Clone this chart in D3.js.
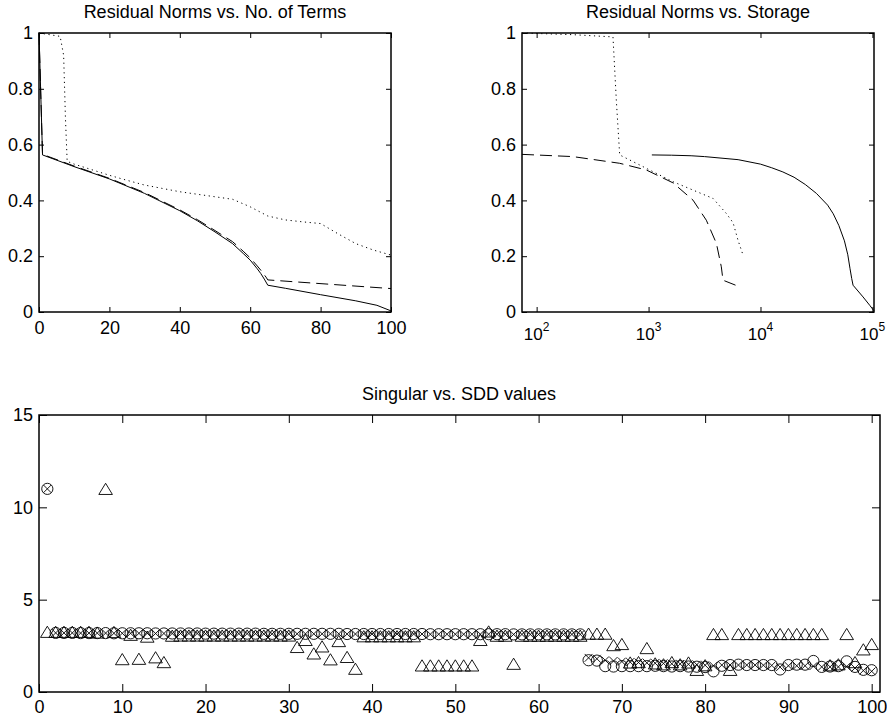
<!DOCTYPE html>
<html>
<head>
<meta charset="utf-8">
<script src="https://cdn.jsdelivr.net/npm/d3@7"></script>
<style>
  body { margin: 0; background: #fff; }
  svg { font-family: "Liberation Sans", Arial, Helvetica, sans-serif; }
  .tick text { font-size: 18px; fill: #000; }
  .tick line { stroke: #000; stroke-width: 1; }
  .title { font-size: 18px; text-anchor: middle; }
</style>
</head>
<body>
<div id="chart"></div>
<script>
'use strict';

// --- residual norm vs number of terms (top left)
const termsSolidX = [0, 1, 10, 20, 30, 40, 45, 50, 55, 58, 60, 62, 63, 64, 65, 70, 80, 90, 96, 100];
const termsSolidY = [1.0, 0.563, 0.521, 0.477, 0.425, 0.363, 0.327, 0.287, 0.245, 0.21, 0.186, 0.155, 0.138, 0.118, 0.096, 0.085, 0.062, 0.040, 0.024, 0.004];
const termsDashX = [0, 1, 10, 20, 30, 40, 45, 50, 55, 58, 60, 62, 63, 64.5, 65, 100];
const termsDashY = [1.0, 0.565, 0.523, 0.479, 0.428, 0.366, 0.331, 0.292, 0.252, 0.218, 0.194, 0.165, 0.15, 0.125, 0.115, 0.084];
const termsDotX = [0, 6, 7, 7.5, 8, 10, 15, 20, 25, 30, 35, 40, 45, 50, 55, 60, 65, 70, 75, 80, 85, 90, 95, 100];
const termsDotY = [1.0, 0.988, 0.92, 0.7, 0.54, 0.53, 0.51, 0.49, 0.472, 0.455, 0.443, 0.431, 0.422, 0.413, 0.404, 0.377, 0.344, 0.33, 0.323, 0.317, 0.28, 0.245, 0.222, 0.204];

// --- residual norm vs storage (top right)
const storSolidX = [1070, 1600, 2400, 3162, 6310, 10000, 12590, 15850, 19950, 25120, 31620, 39810, 44670, 50120, 56230, 60260, 63100, 65310, 67140, 82410, 94620, 103300];
const storSolidY = [0.563, 0.562, 0.560, 0.557, 0.546, 0.530, 0.517, 0.502, 0.483, 0.457, 0.425, 0.383, 0.352, 0.310, 0.255, 0.205, 0.155, 0.120, 0.096, 0.054, 0.024, 0.004];
const storDashX = [74, 211, 552, 955, 1652, 2495, 3281, 4036, 4467, 4624, 5998];
const storDashY = [0.565, 0.557, 0.533, 0.509, 0.463, 0.401, 0.329, 0.246, 0.162, 0.114, 0.096];
const storDotX = [74, 211, 481, 515, 552, 832, 1652, 2495, 3767, 4955, 5689, 6299, 6984];
const storDotY = [1.0, 0.994, 0.986, 0.76, 0.563, 0.527, 0.467, 0.437, 0.407, 0.353, 0.320, 0.257, 0.204];

// --- singular vs SDD values (bottom), index 1..100
const circleVals = [
  11.0, 3.20, 3.20, 3.20, 3.19, 3.19, 3.19, 3.19, 3.18, 3.18,
  3.18, 3.18, 3.18, 3.17, 3.17, 3.17, 3.17, 3.17, 3.17, 3.16,
  3.16, 3.16, 3.16, 3.16, 3.16, 3.16, 3.15, 3.15, 3.15, 3.15,
  3.15, 3.15, 3.15, 3.15, 3.15, 3.15, 3.14, 3.14, 3.14, 3.14,
  3.14, 3.14, 3.14, 3.14, 3.14, 3.14, 3.13, 3.13, 3.13, 3.13,
  3.13, 3.13, 3.13, 3.13, 3.13, 3.13, 3.12, 3.12, 3.12, 3.12,
  3.12, 3.12, 3.12, 3.12, 3.12, 1.72, 1.70, 1.40, 1.38, 1.40,
  1.40, 1.40, 1.40, 1.42, 1.40, 1.38, 1.40, 1.38, 1.37, 1.35,
  1.12, 1.42, 1.46, 1.48, 1.46, 1.46, 1.46, 1.46, 1.22, 1.46,
  1.48, 1.48, 1.68, 1.36, 1.38, 1.40, 1.66, 1.36, 1.20, 1.18
];
const crossVals = [
  11.0, 3.20, 3.20, 3.20, 3.19, 3.19, 3.19, 3.19, 3.18, 3.18,
  3.18, 3.18, 3.18, 3.17, 3.17, 3.17, 3.17, 3.17, 3.17, 3.16,
  3.16, 3.16, 3.16, 3.16, 3.16, 3.16, 3.15, 3.15, 3.15, 3.15,
  3.15, 3.15, 3.15, 3.15, 3.15, 3.15, 3.14, 3.14, 3.14, 3.14,
  3.14, 3.14, 3.14, 3.14, 3.14, 3.14, 3.13, 3.13, 3.13, 3.13,
  3.13, 3.13, 3.13, 3.13, 3.13, 3.13, 3.12, 3.12, 3.12, 3.12,
  3.12, 3.12, 3.12, 3.12, 3.12, 1.85, 1.80, 1.72, 1.68, 1.65,
  1.62, 1.60, 1.58, 1.56, 1.55, 1.53, 1.52, 1.50, 1.48, 1.45,
  1.42, 1.46, 1.46, 1.46, 1.46, 1.46, 1.45, 1.44, 1.35, 1.42,
  1.42, 1.42, 1.40, 1.36, 1.36, 1.36, 1.38, 1.30, 1.16, 1.12
];
const triangleVals = [
  3.26, 3.26, 3.26, 3.26, 3.26, 3.26, 3.22, 11.0, 3.25, 1.78,
  3.10, 1.80, 3.00, 1.88, 1.62, 3.05, 3.06, 3.06, 3.06, 3.06,
  3.06, 3.06, 3.06, 3.06, 3.06, 3.06, 3.06, 3.06, 3.06, 3.06,
  2.44, 2.82, 2.09, 2.47, 1.77, 2.76, 1.90, 1.26, 3.02, 3.02,
  3.02, 3.02, 3.02, 3.02, 3.02, 1.44, 1.44, 1.44, 1.44, 1.44,
  1.44, 1.44, 2.82, 3.28, 3.05, 3.05, 1.53, 3.05, 3.05, 3.05,
  3.05, 3.05, 3.05, 3.05, 3.05, 3.16, 3.16, 3.16, 2.54, 2.60,
  1.60, 1.62, 2.38, 1.55, 1.50, 1.62, 1.50, 1.60, 1.20, 1.45,
  3.14, 3.14, 1.20, 3.14, 3.14, 3.14, 3.14, 3.14, 3.14, 3.14,
  3.14, 3.14, 3.14, 3.14, 1.45, 1.50, 3.14, 1.62, 2.31, 2.60
];
const indexVals = d3.range(1, 101);

// tick labels
const normTicks = [0, 0.2, 0.4, 0.6, 0.8, 1];
const termTicks = [0, 20, 40, 60, 80, 100];
const storageTicks = [1e2, 1e3, 1e4, 1e5];
const indexTicks = [0, 10, 20, 30, 40, 50, 60, 70, 80, 90, 100];
const valueTicks = [0, 5, 10, 15];

const width = 887, height = 719;

const svg = d3.select("#chart")
  .append("svg")
  .attr("width", width)
  .attr("height", height);

svg.append("rect").attr("width", width).attr("height", height).attr("fill", "#fff");

// draws an inward-ticked MATLAB-like box with four axes
function drawBox(g, x, y, opts) {
  const [x0, x1] = x.range();
  const [y0, y1] = y.range(); // y0 bottom, y1 top
  const tl = opts.tick;

  const xb = g.append("g")
    .attr("transform", `translate(0,${y0})`)
    .call(d3.axisBottom(x).tickValues(opts.xTicks).tickSizeInner(-tl).tickSizeOuter(0)
      .tickPadding(opts.xPad).tickFormat(opts.xFormat));
  g.append("g")
    .attr("transform", `translate(0,${y1})`)
    .call(d3.axisTop(x).tickValues(opts.xTicks).tickSizeInner(-tl).tickSizeOuter(0).tickFormat(""));
  g.append("g")
    .attr("transform", `translate(${x0},0)`)
    .call(d3.axisLeft(y).tickValues(opts.yTicks).tickSizeInner(-tl).tickSizeOuter(0)
      .tickPadding(6).tickFormat(d => String(d)));
  g.append("g")
    .attr("transform", `translate(${x1},0)`)
    .call(d3.axisRight(y).tickValues(opts.yTicks).tickSizeInner(-tl).tickSizeOuter(0).tickFormat(""));

  g.selectAll(".domain").remove();

  g.append("rect")
    .attr("x", x0).attr("y", y1)
    .attr("width", x1 - x0).attr("height", y0 - y1)
    .attr("fill", "none")
    .attr("stroke", "#000")
    .attr("stroke-width", 1.5);
  return xb;
}

function drawLine(g, xs, ys, x, y, dash) {
  const pts = xs.map((d, i) => [d, ys[i]]);
  g.append("path")
    .datum(pts)
    .attr("fill", "none")
    .attr("stroke", "#000")
    .attr("stroke-width", 1)
    .attr("stroke-dasharray", dash)
    .attr("d", d3.line().x(d => x(d[0])).y(d => y(d[1])));
}

// ---------- top left
const xTerms = d3.scaleLinear().domain([0, 100]).range([39, 391]);
const yNormL = d3.scaleLinear().domain([0, 1]).range([312, 33]);
const gL = svg.append("g");
drawLine(gL, termsDotX, termsDotY, xTerms, yNormL, "1.2,3.6");
drawLine(gL, termsDashX, termsDashY, xTerms, yNormL, "12,6");
drawLine(gL, termsSolidX, termsSolidY, xTerms, yNormL, null);
drawBox(gL, xTerms, yNormL, { tick: 5, xTicks: termTicks, yTicks: normTicks, xPad: 9, xFormat: d => String(d) });
gL.append("text").attr("class", "title").attr("x", 215).attr("y", 18)
  .text("Residual Norms vs. No. of Terms");

// ---------- top right
const xStor = d3.scaleLog().domain([74, 103300]).range([522, 874]);
const yNormR = d3.scaleLinear().domain([0, 1]).range([312, 33]);
const gR = svg.append("g");
drawLine(gR, storDotX, storDotY, xStor, yNormR, "1.2,3.6");
drawLine(gR, storDashX, storDashY, xStor, yNormR, "12,6");
drawLine(gR, storSolidX, storSolidY, xStor, yNormR, null);
const xbR = drawBox(gR, xStor, yNormR, { tick: 5, xTicks: storageTicks, yTicks: normTicks, xPad: 9, xFormat: () => "" });
xbR.selectAll(".tick text").remove();
gR.selectAll("text.loglab")
  .data(storageTicks)
  .join("text")
  .attr("class", "loglab")
  .attr("x", d => xStor(d))
  .attr("y", 340)
  .attr("text-anchor", "middle")
  .attr("font-size", 17)
  .call(t => {
    t.append("tspan").text("10");
    t.append("tspan").attr("dy", -9).attr("font-size", 12).text(d => Math.round(Math.log10(d)));
  });
gR.append("text").attr("class", "title").attr("x", 698).attr("y", 18)
  .text("Residual Norms vs. Storage");

// ---------- bottom
const xIdx = d3.scaleLinear().domain([0, 101]).range([39, 880]);
const yVal = d3.scaleLinear().domain([0, 15]).range([692, 415]);
const gB = svg.append("g");

const mk = gB.append("g").attr("fill", "none").attr("stroke", "#000").attr("stroke-width", 0.9);

mk.selectAll("circle")
  .data(indexVals)
  .join("circle")
  .attr("cx", d => xIdx(d))
  .attr("cy", (d, i) => yVal(circleVals[i]))
  .attr("r", 5.6);

const cs = 3.9;
mk.selectAll("path.cross")
  .data(indexVals)
  .join("path")
  .attr("class", "cross")
  .attr("d", (d, i) => {
    const cx = xIdx(d), cy = yVal(crossVals[i]);
    return `M${cx - cs},${cy - cs}L${cx + cs},${cy + cs}M${cx - cs},${cy + cs}L${cx + cs},${cy - cs}`;
  });

const tw = 6.8, th = 5.6;
mk.selectAll("path.tri")
  .data(indexVals)
  .join("path")
  .attr("class", "tri")
  .attr("d", (d, i) => {
    const cx = xIdx(d), cy = yVal(triangleVals[i]);
    return `M${cx},${cy - th}L${cx + tw},${cy + th}L${cx - tw},${cy + th}Z`;
  });

drawBox(gB, xIdx, yVal, { tick: 8, xTicks: indexTicks, yTicks: valueTicks, xPad: 8, xFormat: d => String(d) });
gB.append("text").attr("class", "title").attr("x", 459).attr("y", 400)
  .text("Singular vs. SDD values");
</script>
</body>
</html>
